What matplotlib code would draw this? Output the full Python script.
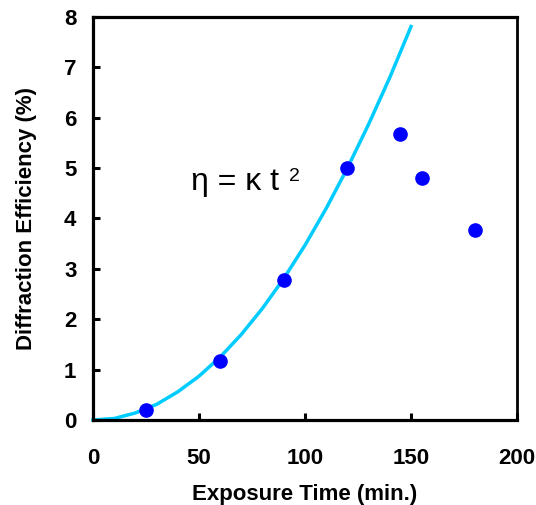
import matplotlib
matplotlib.use("Agg")
import matplotlib.pyplot as plt

# Fitted curve
fit_t = [0, 10, 20, 30, 40, 50, 60, 70, 80, 90, 100, 110, 120, 130, 140, 150]
fit_eta = [0.0, 0.03, 0.14, 0.31, 0.56, 0.87, 1.25, 1.70, 2.22, 2.81, 3.47, 4.20, 5.00, 5.87, 6.80, 7.81]

# Measured points
meas_t = [25, 60, 90, 120, 145, 155, 180]
meas_eta = [0.2, 1.17, 2.77, 5.0, 5.67, 4.8, 3.78]

x_ticks = [0, 50, 100, 150, 200]
y_ticks = [0, 1, 2, 3, 4, 5, 6, 7, 8]

plt.rcParams['font.family'] = ['Liberation Sans', 'DejaVu Sans']

fig = plt.figure(figsize=(5.36, 5.05), dpi=100)
ax = fig.add_axes([93/536, 1 - 420/505, (517 - 93)/536, (420 - 17)/505])

ax.plot(fit_t, fit_eta, color='#00CCFF', lw=2.5, zorder=2, clip_on=False)
ax.plot(meas_t, meas_eta, 'o', color='#0000FF', ms=9.5, zorder=3, clip_on=False)

ax.set_xlim(0, 200)
ax.set_ylim(0, 8)
ax.set_xticks(x_ticks)
ax.set_yticks(y_ticks)
ax.tick_params(direction='in', length=5, width=2.2, labelsize=16,
               top=False, right=False)
ax.tick_params(axis='x', pad=20)
ax.tick_params(axis='y', pad=12)
for lab in ax.get_xticklabels() + ax.get_yticklabels():
    lab.set_fontweight('bold')
for s in ax.spines.values():
    s.set_linewidth(2.3)
ax.spines['right'].set_linewidth(2.0)

ax.set_xlabel('Exposure Time (min.)', fontsize=16, fontweight='bold', labelpad=11)
ax.set_ylabel('Diffraction Efficiency (%)', fontsize=16, fontweight='bold', labelpad=19)

ax.text(46, 4.57, 'η = κ t', fontsize=23, ha='left', va='baseline')
ax.text(92.5, 4.74, '2', fontsize=14, ha='left', va='baseline')

fig.savefig('out.png', dpi=100)
